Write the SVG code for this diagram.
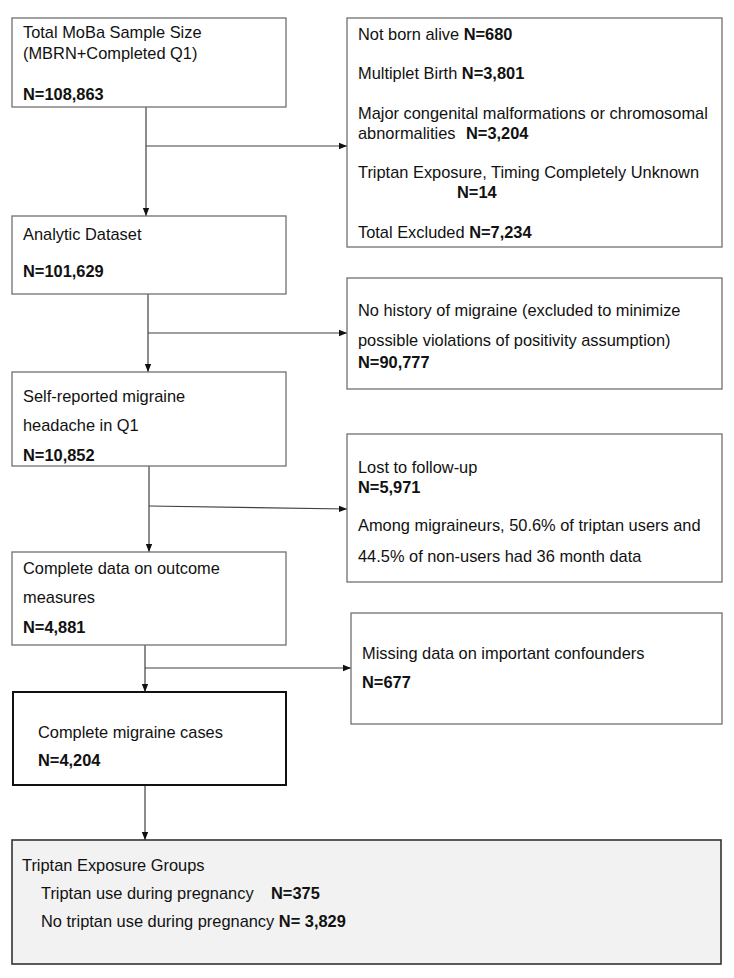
<svg xmlns="http://www.w3.org/2000/svg" width="734" height="978" viewBox="0 0 734 978">
<defs>
<style>
text{font-family:"Liberation Sans",Arial,sans-serif;font-size:16.4px;fill:#111}
.b{font-weight:bold}
.box{fill:#fff;stroke:#707070;stroke-width:1.3}
.thick{fill:#fff;stroke:#111;stroke-width:2}
.final{fill:#f2f2f2;stroke:#333;stroke-width:1.6}
.c{fill:none;stroke:#404040;stroke-width:1.2}
</style>
<marker id="ah" viewBox="0 0 10 10" refX="10" refY="5" markerWidth="8" markerHeight="8" markerUnits="userSpaceOnUse" orient="auto">
<path d="M0,1 L10,5 L0,9 Z" fill="#111"/>
</marker>
</defs>
<rect width="734" height="978" fill="#fff"/>
<g id="connectors">
<path class="c" d="M146,107 V216" marker-end="url(#ah)"/>
<path class="c" d="M146,146 H347" marker-end="url(#ah)"/>
<path class="c" d="M148,294 V372" marker-end="url(#ah)"/>
<path class="c" d="M148,333 H347" marker-end="url(#ah)"/>
<path class="c" d="M149,466 V552" marker-end="url(#ah)"/>
<path class="c" d="M149,506 L347,509" marker-end="url(#ah)"/>
<path class="c" d="M145,645 V692" marker-end="url(#ah)"/>
<path class="c" d="M145,668 H351" marker-end="url(#ah)"/>
<path class="c" d="M145,785 V840" marker-end="url(#ah)"/>
</g>
<g id="total">
<rect class="box" x="12" y="18" width="274" height="89"/>
<text x="23" y="38">Total MoBa Sample Size</text>
<text x="23" y="59">(MBRN+Completed Q1)</text>
<text x="23" y="100" class="b">N=108,863</text>
</g>
<g id="excl1">
<rect class="box" x="347" y="18" width="375" height="229"/>
<text x="358" y="40">Not born alive <tspan class="b">N=680</tspan></text>
<text x="358" y="79">Multiplet Birth <tspan class="b">N=3,801</tspan></text>
<text x="358" y="119">Major congenital malformations or chromosomal</text>
<text x="358" y="139">abnormalities <tspan class="b" x="466">N=3,204</tspan></text>
<text x="358" y="178">Triptan Exposure, Timing Completely Unknown</text>
<text x="457" y="198" class="b">N=14</text>
<text x="358" y="238">Total Excluded <tspan class="b">N=7,234</tspan></text>
</g>
<g id="analytic">
<rect class="box" x="12" y="216" width="274" height="78"/>
<text x="23" y="240">Analytic Dataset</text>
<text x="23" y="277" class="b">N=101,629</text>
</g>
<g id="excl2">
<rect class="box" x="347" y="278" width="375" height="111"/>
<text x="358" y="316">No history of migraine (excluded to minimize</text>
<text x="358" y="346">possible violations of positivity assumption)</text>
<text x="358" y="368" class="b">N=90,777</text>
</g>
<g id="selfreported">
<rect class="box" x="12" y="372" width="274" height="94"/>
<text x="23" y="402">Self-reported migraine</text>
<text x="23" y="431">headache in Q1</text>
<text x="23" y="461" class="b">N=10,852</text>
</g>
<g id="excl3">
<rect class="box" x="347" y="434" width="375" height="148"/>
<text x="358" y="473">Lost to follow-up</text>
<text x="358" y="493" class="b">N=5,971</text>
<text x="358" y="531">Among migraineurs, 50.6% of triptan users and</text>
<text x="358" y="562">44.5% of non-users had 36 month data</text>
</g>
<g id="complete">
<rect class="box" x="12" y="552" width="274" height="93"/>
<text x="23" y="574">Complete data on outcome</text>
<text x="23" y="603">measures</text>
<text x="23" y="633" class="b">N=4,881</text>
</g>
<g id="excl4">
<rect class="box" x="351" y="613" width="371" height="111"/>
<text x="362" y="659">Missing data on important confounders</text>
<text x="362" y="688" class="b">N=677</text>
</g>
<g id="cases">
<rect class="thick" x="13" y="692" width="273" height="93"/>
<text x="38" y="738">Complete migraine cases</text>
<text x="38" y="766" class="b">N=4,204</text>
</g>
<g id="groups">
<rect class="final" x="12" y="840" width="709" height="124"/>
<text x="22" y="871">Triptan Exposure Groups</text>
<text x="41" y="899">Triptan use during pregnancy</text>
<text x="271" y="899" class="b">N=375</text>
<text x="41" y="927">No triptan use during pregnancy <tspan class="b">N= 3,829</tspan></text>
</g>
</svg>
